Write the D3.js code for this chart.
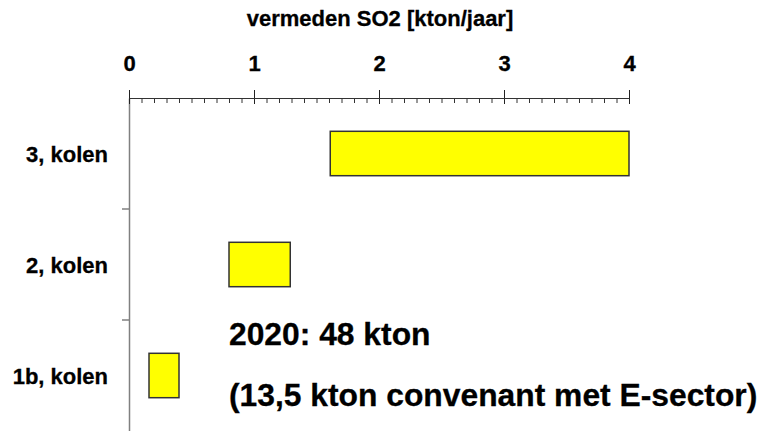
<!DOCTYPE html>
<html>
<head>
<meta charset="utf-8">
<script src="https://cdn.jsdelivr.net/npm/d3@7"></script>
<style>
  body { margin: 0; background: #fff; }
  svg text { font-family: "Liberation Sans", Arial, sans-serif; font-weight: bold; fill: #000; stroke: #000; stroke-width: 0.3px; }
</style>
</head>
<body>
<div id="chart"></div>
<script>
// data
const categories = ['3, kolen', '2, kolen', '1b, kolen']
const lowValues = [1.61, 0.80, 0.16]
const highValues = [4.0, 1.29, 0.40]
const xTicks = [0, 1, 2, 3, 4]
const axisTitle = 'vermeden SO2 [kton/jaar]'
const noteLines = ['2020: 48 kton', '(13,5 kton convenant met E-sector)']

const width = 762, height = 431
const mLeft = 129, mRight = 629, mTop = 98, mBottom = 431

const svg = d3.select('#chart')
  .append('svg')
  .attr('width', width)
  .attr('height', height)

// schalen
const xScale = d3.scaleLinear()
  .domain([0, 4])
  .range([mLeft, mRight])

const yScale = d3.scaleBand()
  .domain(categories)
  .range([mTop, mBottom])

// y-as (lijn + streepjes tussen categorieën)
const yAxis = d3.axisLeft(yScale)
  .tickValues([])
  .tickSizeOuter(0)
svg.append('g')
  .attr('transform', `translate(${mLeft},0)`)
  .call(yAxis)
  .call(g => g.select('.domain').attr('stroke', '#808080').attr('stroke-width', 1.5))

svg.append('g')
  .selectAll('line')
  .data(categories.slice(1))
  .join('line')
  .attr('x1', mLeft - 7)
  .attr('x2', mLeft)
  .attr('y1', d => yScale(d))
  .attr('y2', d => yScale(d))
  .attr('stroke', '#808080')
  .attr('stroke-width', 1.5)

// kleine streepjes op x-as
const minorTicks = d3.range(0, 40).map(i => i / 10).filter(v => !xTicks.includes(v))
svg.append('g')
  .attr('transform', `translate(0,${mTop})`)
  .call(d3.axisBottom(xScale).tickValues(minorTicks).tickSize(5).tickFormat('').tickSizeOuter(0))
  .call(g => g.select('.domain').remove())
  .call(g => g.selectAll('line').attr('stroke', '#333'))

// grote streepjes onder de lijn
svg.append('g')
  .attr('transform', `translate(0,${mTop})`)
  .call(d3.axisBottom(xScale).tickValues(xTicks).tickSize(6).tickFormat('').tickSizeOuter(0))
  .call(g => g.select('.domain').remove())
  .call(g => g.selectAll('line').attr('stroke', '#222'))

// x-as bovenaan met labels
svg.append('g')
  .attr('transform', `translate(0,${mTop})`)
  .call(d3.axisTop(xScale).tickValues(xTicks).tickSize(8).tickPadding(19).tickFormat(d => d).tickSizeOuter(0))
  .call(g => g.select('.domain').attr('stroke', '#333').attr('stroke-width', 1.2))
  .call(g => g.selectAll('line').attr('stroke', '#222'))
  .call(g => g.selectAll('text').attr('font-size', 22).attr('fill', '#000'))

svg.append('text')
  .attr('x', (mLeft + mRight) / 2 + 1)
  .attr('y', 26)
  .attr('text-anchor', 'middle')
  .attr('font-size', 22)
  .text(axisTitle)

// categorie labels
svg.append('g')
  .selectAll('text')
  .data(categories)
  .join('text')
  .attr('x', 108)
  .attr('y', d => yScale(d) + yScale.bandwidth() / 2 + 8)
  .attr('text-anchor', 'end')
  .attr('font-size', 22)
  .text(d => d)

// zwevende balken
const barH = yScale.bandwidth() * 0.4
svg.append('g')
  .selectAll('rect')
  .data(categories)
  .join('rect')
  .attr('x', (d, i) => xScale(lowValues[i]))
  .attr('width', (d, i) => xScale(highValues[i]) - xScale(lowValues[i]))
  .attr('y', d => yScale(d) + (yScale.bandwidth() - barH) / 2)
  .attr('height', barH)
  .attr('fill', '#ffff00')
  .attr('stroke', '#333')
  .attr('stroke-width', 1.5)

// notitie
svg.append('g')
  .selectAll('text')
  .data(noteLines)
  .join('text')
  .attr('x', 229)
  .attr('y', (d, i) => 345 + i * 61)
  .attr('font-size', 31.8)
  .text(d => d)
</script>
</body>
</html>
